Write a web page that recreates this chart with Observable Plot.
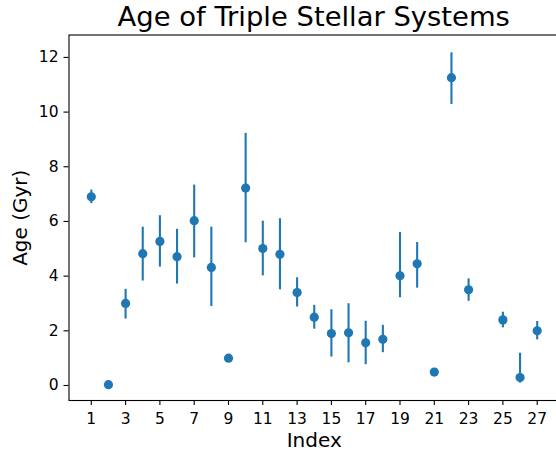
<!DOCTYPE html>
<html>
<head>
<meta charset="utf-8">
<script src="https://cdn.jsdelivr.net/npm/d3@7"></script>
<script src="https://cdn.jsdelivr.net/npm/@observablehq/plot@0.6"></script>
<style>
  html, body { margin: 0; padding: 0; background: #fff; overflow: hidden; }
  #title {
    font-family: "DejaVu Sans", sans-serif;
    font-size: 27.4px;
    line-height: 30px;
    height: 30px;
    padding-top: 2px;
    padding-left: 71.5px;
    width: 484.5px;
    text-align: center;
    color: #000;
    white-space: nowrap;
  }
</style>
</head>
<body>
<div id="title">Age of Triple Stellar Systems</div>
<div id="chart"></div>
<script>
const indices = [1, 2, 3, 4, 5, 6, 7, 8, 9, 10, 11, 12, 13, 14, 15, 16, 17, 18, 19, 20, 21, 22, 23, 25, 26, 27];
const ages    = [6.9, 0.03, 3.0, 4.82, 5.27, 4.71, 6.03, 4.32, 1.0, 7.22, 5.01, 4.8, 3.4, 2.5, 1.9, 1.93, 1.56, 1.69, 4.01, 4.45, 0.49, 11.26, 3.5, 2.4, 0.29, 2.0];
const errLow  = [0.25, 0.0, 0.57, 1.0, 0.94, 1.0, 1.36, 1.43, 0.12, 2.0, 1.0, 1.3, 0.53, 0.44, 0.86, 1.1, 0.8, 0.49, 0.8, 0.89, 0.05, 0.98, 0.42, 0.29, 0.2, 0.33];
const errHigh = [0.25, 0.0, 0.52, 0.97, 0.94, 1.0, 1.3, 1.47, 0.12, 2.0, 1.0, 1.3, 0.54, 0.43, 0.87, 1.06, 0.79, 0.51, 1.59, 0.78, 0.05, 0.91, 0.4, 0.28, 0.89, 0.34];
const xTicks = [1, 3, 5, 7, 9, 11, 13, 15, 17, 19, 21, 23, 25, 27];
const yTicks = [0, 2, 4, 6, 8, 10, 12];
const xLabel = "Index";
const yLabel = "Age (Gyr)";

const data = indices.map((x, i) => ({
  index: x,
  age: ages[i],
  lo: ages[i] - errLow[i],
  hi: ages[i] + errHigh[i]
}));

const color = "#1f77b4";

const chart = Plot.plot({
  width: 556,
  height: 422,
  marginLeft: 68.5,
  marginRight: -3,
  marginTop: 2.5,
  marginBottom: 54,
  style: { fontFamily: "DejaVu Sans, sans-serif", color: "#000", background: "#fff", overflow: "hidden" },
  x: { domain: [-0.3, 28.3] },
  y: { domain: [-0.549, 12.82] },
  marks: [
    Plot.ruleX(data, { x: "index", y1: "lo", y2: "hi", stroke: color, strokeWidth: 2.1 }),
    Plot.dot(data, { x: "index", y: "age", r: 4.6, fill: color, stroke: "none" }),
    Plot.frame({ stroke: "#000", strokeWidth: 1.1 }),
    Plot.axisX({ ticks: xTicks, tickSize: 5, tickPadding: 7, fontSize: 15.5, label: null, strokeWidth: 1.1 }),
    Plot.axisY({ ticks: yTicks, tickSize: 5, tickPadding: 5.5, fontSize: 15.5, label: null, strokeWidth: 1.1 }),
    Plot.text([xLabel], { text: d => d, frameAnchor: "bottom", lineAnchor: "middle", dy: 40.3, fontSize: 20, textAnchor: "middle" }),
    Plot.text([yLabel], { text: d => d, frameAnchor: "left", lineAnchor: "middle", rotate: -90, dx: -48.9, fontSize: 20, textAnchor: "middle" })
  ]
});
document.getElementById("chart").appendChild(chart);
</script>
</body>
</html>
